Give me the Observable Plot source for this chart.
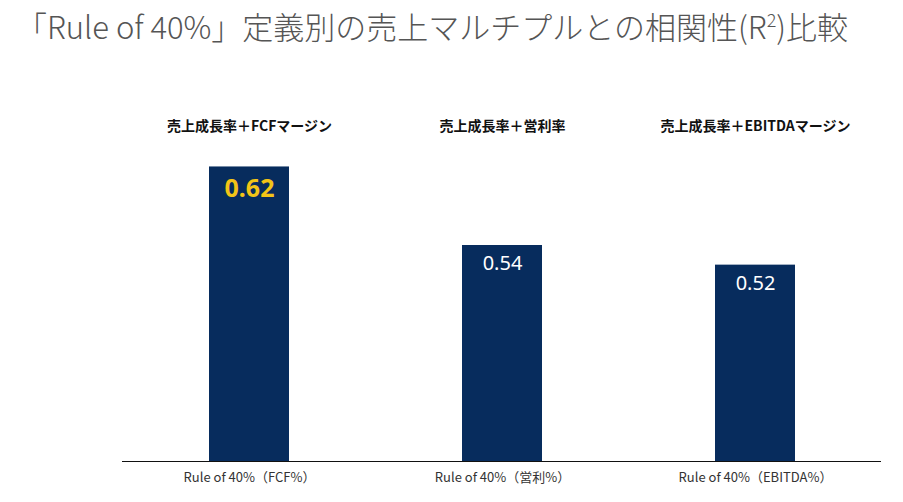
<!DOCTYPE html>
<html><head><meta charset="utf-8">
<script src="https://cdn.jsdelivr.net/npm/d3@7"></script>
<script src="https://cdn.jsdelivr.net/npm/@observablehq/plot@0.6"></script>
<style>
body{margin:0;background:#fff;font-family:"Noto Sans CJK JP","Noto Sans",sans-serif;}
#title{height:60px;box-sizing:border-box;padding:3px 0 0 16px;font-size:31px;color:#555;font-weight:300;white-space:nowrap;}
#title sup{font-size:18px;vertical-align:12px;line-height:0;}
</style></head><body>
<div id="title">「Rule of 40%」定義別の売上マルチプルとの相関性(R<sup>2</sup>)比較</div>
<div id="chart"></div>
<script>
const categories = ["Rule of 40%（FCF%）", "Rule of 40%（営利%）", "Rule of 40%（EBITDA%）"];
const headers = ["売上成長率＋FCFマージン", "売上成長率＋営利率", "売上成長率＋EBITDAマージン"];
const values = [0.62, 0.54, 0.52];
const highlight = [true, false, false];
const data = categories.map((c, i) => ({cat: c, head: headers[i], v: values[i], hi: highlight[i]}));
const headerOf = new Map(categories.map((c, i) => [c, headers[i]]));
const base = 0.32;

const chart = Plot.plot({
  width: 903, height: 442,
  marginLeft: 122, marginRight: 22, marginTop: 77, marginBottom: 41,
  style: {fontFamily: '"Noto Sans CJK JP","Noto Sans",sans-serif', background: "#fff"},
  x: {domain: categories, paddingInner: 0.684, paddingOuter: 0.342, label: null},
  y: {domain: [base, 0.65], axis: null},
  marks: [
    Plot.rectY(data, {x: "cat", y1: () => base, y2: "v", fill: "#072c5d"}),
    Plot.ruleY([base], {stroke: "#111", strokeWidth: 1.2}),
    Plot.text(data.filter(d => d.hi), {x: "cat", y: "v", text: d => d.v.toFixed(2), dy: 22, fill: "#f2c417", fontSize: 25, fontWeight: 700, fontFamily: '"Noto Sans",sans-serif'}),
    Plot.text(data.filter(d => !d.hi), {x: "cat", y: "v", text: d => d.v.toFixed(2), dy: 18, fill: "#fff", fontSize: 20, fontFamily: '"Noto Sans",sans-serif'}),
    Plot.axisX({anchor: "bottom", tickSize: 0, tickPadding: 11, fontSize: 13, color: "#333", label: null}),
    Plot.axisX({anchor: "top", tickSize: 0, tickPadding: 7, fontSize: 14, fontWeight: 700, fill: "#111", label: null, tickFormat: c => headerOf.get(c)})
  ]
});
document.getElementById("chart").appendChild(chart);
</script>
</body></html>
